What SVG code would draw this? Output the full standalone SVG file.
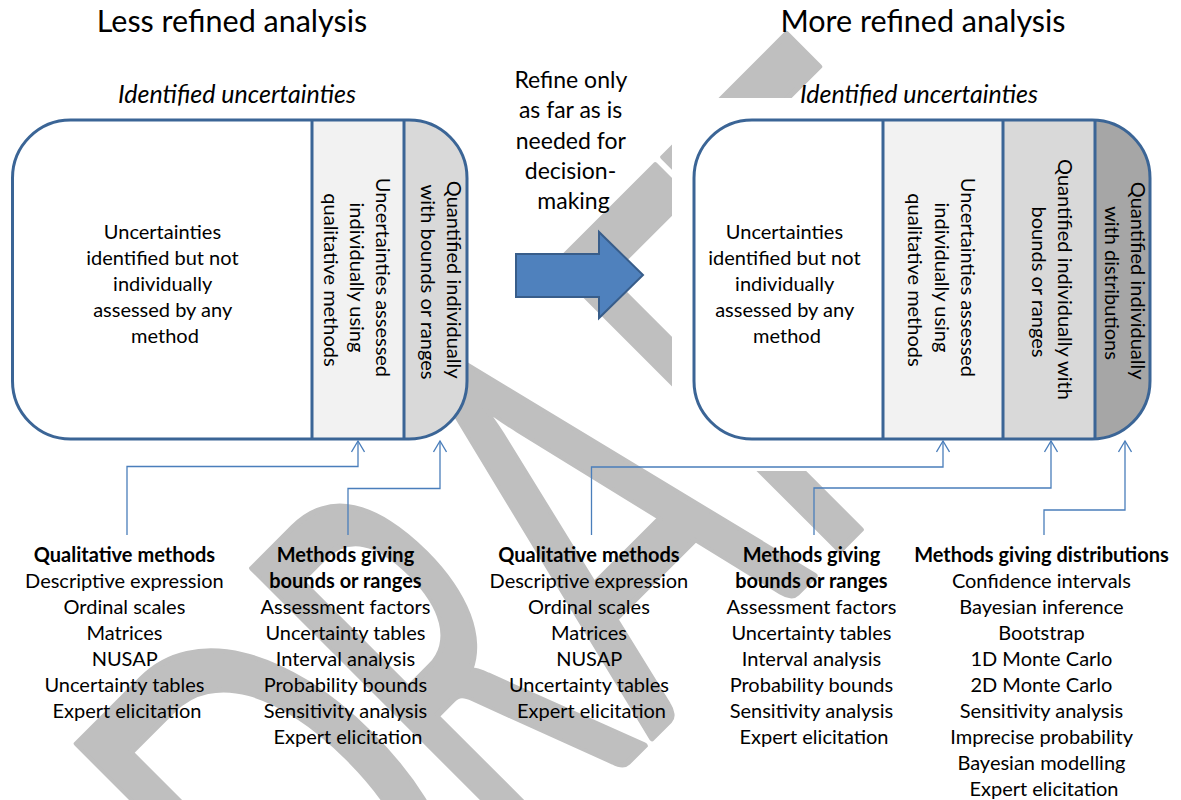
<svg xmlns="http://www.w3.org/2000/svg" width="1181" height="800" viewBox="0 0 1181 800">
  <defs>
    <style>
      .t { font-family: Lato, "Open Sans", "Liberation Sans", sans-serif; fill: #000; }
      .title { font-size: 30.5px; }
      .sub { font-size: 25px; font-style: italic; }
      .mid { font-size: 23px; }
      .body { font-size: 20px; }
      .hd { font-weight: bold; }
      .wm { font-family: Lato, "Open Sans", sans-serif; font-size: 562px; fill: #bfbfbf; stroke: #bfbfbf; stroke-width: 6; stroke-linejoin: round; }
      .frame { fill: none; stroke: #3b6596; stroke-width: 3; }
      .conn { fill: none; stroke: #4a7ebb; stroke-width: 1.3; }
      .c2 { fill: #f2f2f2; }
      .c3 { fill: #d9d9d9; }
      .c4 { fill: #a6a6a6; }
    </style>
    <clipPath id="clipLess"><rect x="12.5" y="120" width="454.5" height="319" rx="58"/></clipPath>
    <clipPath id="clipMore"><rect x="694" y="120" width="456" height="319" rx="58"/></clipPath>
    <marker id="vhead" viewBox="0 0 14 14" refX="12" refY="7" markerWidth="14" markerHeight="14" markerUnits="userSpaceOnUse" orient="auto">
      <path d="M1,0.5 L12,7 L1,13.5" fill="none" stroke="#4a7ebb" stroke-width="1.3"/>
    </marker>
  </defs>

  <rect x="0" y="0" width="1181" height="800" fill="#fff"/>

  <!-- DRAFT watermark, set along the diagonal -->
  <g id="watermark" transform="rotate(-45)">
    <text class="wm" text-anchor="middle" transform="translate(-372,983) scale(0.62,1)">D</text>
    <text class="wm" text-anchor="middle" transform="translate(-160,983) scale(0.52,1)">R</text>
    <text class="wm" text-anchor="middle" transform="translate(54,983) scale(0.615,1)">A</text>
    <text class="wm" text-anchor="middle" transform="translate(266,983) scale(0.58,1)">F</text>
    <text class="wm" text-anchor="middle" transform="translate(445,983) scale(0.56,1)">T</text>
  </g>

  <!-- titles -->
  <g id="title-less">
    <text class="t title" x="232" y="32" text-anchor="middle">Less refined analysis</text>
  </g>

  <!-- backdrop of the right-hand panel -->
  <rect x="672" y="98" width="509" height="373" fill="#fff"/>

  <g id="title-more">
    <text class="t title" x="923" y="32" text-anchor="middle">More refined analysis</text>
  </g>

  <!-- left panel: less refined analysis -->
  <g id="box-less">
    <text class="t sub" x="237" y="103" text-anchor="middle">Identified uncertainties</text>
    <rect x="12.5" y="120" width="454.5" height="319" rx="58" fill="#fff"/>
    <g clip-path="url(#clipLess)">
      <rect class="c2" x="312" y="120" width="92" height="319"/>
      <rect class="c3" x="404" y="120" width="63" height="319"/>
    </g>
    <line class="frame" x1="312" y1="120" x2="312" y2="439"/>
    <line class="frame" x1="404" y1="120" x2="404" y2="439"/>
    <rect class="frame" x="12.5" y="120" width="454.5" height="319" rx="58"/>
    <text class="t body" text-anchor="middle">
      <tspan x="165" y="239">Uncertainties</tspan>
      <tspan x="165" y="265">identified but not</tspan>
      <tspan x="165" y="291">individually</tspan>
      <tspan x="165" y="317">assessed by any</tspan>
      <tspan x="165" y="343">method</tspan>
    </text>
    <text class="t body" text-anchor="middle" transform="translate(376,280) rotate(90)">
      <tspan x="0" y="0">Uncertainties assessed</tspan>
      <tspan x="0" y="26">individually using</tspan>
      <tspan x="0" y="52">qualitative methods</tspan>
    </text>
    <text class="t body" text-anchor="middle" transform="translate(447,282) rotate(90)">
      <tspan x="0" y="0">Quantified individually</tspan>
      <tspan x="0" y="26">with bounds or ranges</tspan>
    </text>
  </g>

  <!-- refine arrow -->
  <g id="refine">
    <text class="t mid" text-anchor="middle">
      <tspan x="573.5" y="88">Refine only</tspan>
      <tspan x="573.5" y="118">as far as is</tspan>
      <tspan x="573.5" y="149">needed for</tspan>
      <tspan x="573.5" y="179">decision-</tspan>
      <tspan x="573.5" y="209">making</tspan>
    </text>
    <polygon points="516,254 599,254 599,232 643,275 599,318 599,297 516,297" fill="#4f81bd" stroke="#385d8a" stroke-width="2"/>
  </g>

  <!-- right panel: more refined analysis -->
  <g id="box-more">
    <text class="t sub" x="919" y="103" text-anchor="middle">Identified uncertainties</text>
    <rect x="694" y="120" width="456" height="319" rx="58" fill="#fff"/>
    <g clip-path="url(#clipMore)">
      <rect class="c2" x="883" y="120" width="120" height="319"/>
      <rect class="c3" x="1003" y="120" width="92" height="319"/>
      <rect class="c4" x="1095" y="120" width="55" height="319"/>
    </g>
    <line class="frame" x1="883" y1="120" x2="883" y2="439"/>
    <line class="frame" x1="1003" y1="120" x2="1003" y2="439"/>
    <line class="frame" x1="1095" y1="120" x2="1095" y2="439"/>
    <rect class="frame" x="694" y="120" width="456" height="319" rx="58"/>
    <text class="t body" text-anchor="middle">
      <tspan x="787" y="239">Uncertainties</tspan>
      <tspan x="787" y="265">identified but not</tspan>
      <tspan x="787" y="291">individually</tspan>
      <tspan x="787" y="317">assessed by any</tspan>
      <tspan x="787" y="343">method</tspan>
    </text>
    <text class="t body" text-anchor="middle" transform="translate(961,280) rotate(90)">
      <tspan x="0" y="0">Uncertainties assessed</tspan>
      <tspan x="0" y="26.5">individually using</tspan>
      <tspan x="0" y="53">qualitative methods</tspan>
    </text>
    <text class="t body" text-anchor="middle" transform="translate(1058,282) rotate(90)">
      <tspan x="0" y="0">Quantified individually with</tspan>
      <tspan x="0" y="26">bounds or ranges</tspan>
    </text>
    <text class="t body" text-anchor="middle" transform="translate(1131,283) rotate(90)">
      <tspan x="0" y="0">Quantified individually</tspan>
      <tspan x="0" y="26">with distributions</tspan>
    </text>
  </g>

  <!-- connectors from method lists to panel columns -->
  <g id="connectors">
    <path class="conn" d="M127,535 V466.5 H358 V441" marker-end="url(#vhead)"/>
    <path class="conn" d="M348,535 V488.5 H440 V441" marker-end="url(#vhead)"/>
    <path class="conn" d="M591.5,535 V467 H943 V441" marker-end="url(#vhead)"/>
    <path class="conn" d="M814,535 V488 H1051 V441" marker-end="url(#vhead)"/>
    <path class="conn" d="M1044,535 V510 H1125 V441" marker-end="url(#vhead)"/>
  </g>

  <!-- method lists -->
  <g id="list-qual-less">
    <text class="t body" text-anchor="middle">
      <tspan class="hd" x="127" y="562">Qualitative methods</tspan>
      <tspan x="127" y="588">Descriptive expression</tspan>
      <tspan x="127" y="614">Ordinal scales</tspan>
      <tspan x="127" y="640">Matrices</tspan>
      <tspan x="127" y="666">NUSAP</tspan>
      <tspan x="127" y="692">Uncertainty tables</tspan>
      <tspan x="127" y="718">Expert elicitation</tspan>
    </text>
  </g>
  <g id="list-bounds-less">
    <text class="t body" text-anchor="middle">
      <tspan class="hd" x="348" y="562">Methods giving</tspan>
      <tspan class="hd" x="348" y="588">bounds or ranges</tspan>
      <tspan x="348" y="614">Assessment factors</tspan>
      <tspan x="348" y="640">Uncertainty tables</tspan>
      <tspan x="348" y="666">Interval analysis</tspan>
      <tspan x="348" y="692">Probability bounds</tspan>
      <tspan x="348" y="718">Sensitivity analysis</tspan>
      <tspan x="348" y="744">Expert elicitation</tspan>
    </text>
  </g>
  <g id="list-qual-more">
    <text class="t body" text-anchor="middle">
      <tspan class="hd" x="591.5" y="562">Qualitative methods</tspan>
      <tspan x="591.5" y="588">Descriptive expression</tspan>
      <tspan x="591.5" y="614">Ordinal scales</tspan>
      <tspan x="591.5" y="640">Matrices</tspan>
      <tspan x="591.5" y="666">NUSAP</tspan>
      <tspan x="591.5" y="692">Uncertainty tables</tspan>
      <tspan x="591.5" y="718">Expert elicitation</tspan>
    </text>
  </g>
  <g id="list-bounds-more">
    <text class="t body" text-anchor="middle">
      <tspan class="hd" x="814" y="562">Methods giving</tspan>
      <tspan class="hd" x="814" y="588">bounds or ranges</tspan>
      <tspan x="814" y="614">Assessment factors</tspan>
      <tspan x="814" y="640">Uncertainty tables</tspan>
      <tspan x="814" y="666">Interval analysis</tspan>
      <tspan x="814" y="692">Probability bounds</tspan>
      <tspan x="814" y="718">Sensitivity analysis</tspan>
      <tspan x="814" y="744">Expert elicitation</tspan>
    </text>
  </g>
  <g id="list-distributions">
    <text class="t body" text-anchor="middle">
      <tspan class="hd" x="1044" y="562">Methods giving distributions</tspan>
      <tspan x="1044" y="588">Confidence intervals</tspan>
      <tspan x="1044" y="614">Bayesian inference</tspan>
      <tspan x="1044" y="640">Bootstrap</tspan>
      <tspan x="1044" y="666">1D Monte Carlo</tspan>
      <tspan x="1044" y="692">2D Monte Carlo</tspan>
      <tspan x="1044" y="718">Sensitivity analysis</tspan>
      <tspan x="1044" y="744">Imprecise probability</tspan>
      <tspan x="1044" y="770">Bayesian modelling</tspan>
      <tspan x="1044" y="796">Expert elicitation</tspan>
    </text>
  </g>
</svg>
